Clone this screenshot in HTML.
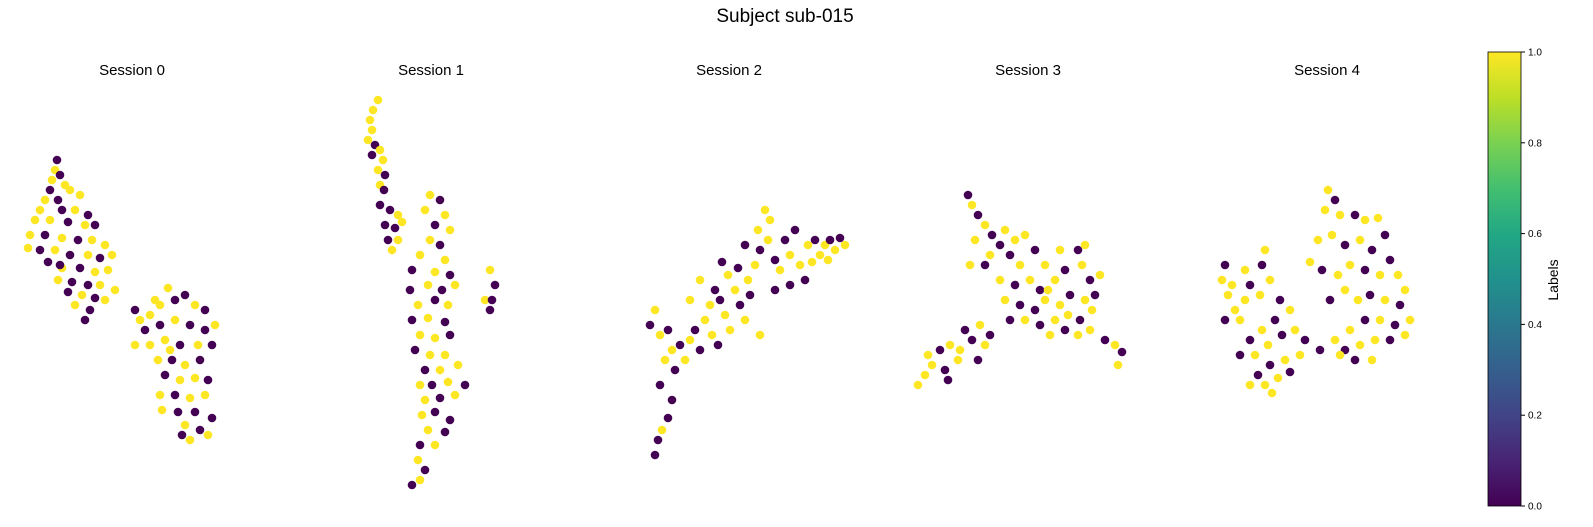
<!DOCTYPE html>
<html><head><meta charset="utf-8"><style>
html,body{margin:0;padding:0;background:#fff;}
svg{display:block;font-family:"Liberation Sans","DejaVu Sans",sans-serif;}
</style></head><body>
<svg id="chart" width="1593" height="527" viewBox="0 0 1593 527" xmlns="http://www.w3.org/2000/svg">
<defs><linearGradient id="viridis" x1="0" y1="1" x2="0" y2="0">
<stop offset="0" stop-color="#440154"/><stop offset="0.1" stop-color="#482475"/><stop offset="0.2" stop-color="#414487"/><stop offset="0.3" stop-color="#355f8d"/><stop offset="0.4" stop-color="#2a788e"/><stop offset="0.5" stop-color="#21918c"/><stop offset="0.6" stop-color="#22a884"/><stop offset="0.7" stop-color="#44bf70"/><stop offset="0.8" stop-color="#7ad151"/><stop offset="0.9" stop-color="#bddf26"/><stop offset="1" stop-color="#fde725"/></linearGradient></defs>
<text x="785" y="22" font-size="19" text-anchor="middle" fill="#000">Subject sub-015</text>
<g id="panels"></g>
<rect x="1488" y="52" width="33" height="454" fill="url(#viridis)" stroke="#000" stroke-width="0.8"/>
<g id="cbticks"></g>
<text x="0" y="0" font-size="14" text-anchor="middle" transform="translate(1558,280) rotate(-90)">Labels</text>
</svg>
<script>
const sessionNames = ["Session 0","Session 1","Session 2","Session 3","Session 4"];
const sessionCenters = [132,431,729,1028,1327];
const cbTicks = [0,0.2,0.4,0.6,0.8,1.0];
const s0 = [[-7.5,33,0],[-7.7,32,1],[-7.2,31.5,0],[-8,31,1],[-6.7,30.5,1],[-8.2,30,0],[-6.2,30,1],[-8.7,29,1],[-7.4,29,0],[-5.2,29.5,1],[-9.2,28,1],[-7,28,0],[-5.7,28,1],[-4.4,27.5,0],[-9.7,27,1],[-8.2,27,1],[-6.4,26.8,0],[-4.7,26.5,1],[-3.7,26.5,0],[-10.2,25.5,1],[-8.7,25.5,0],[-7,25.2,1],[-5.4,25,0],[-4,25,1],[-2.7,24.5,1],[-10.4,24.2,1],[-9.2,24,0],[-7.7,24,1],[-6.2,23.5,0],[-4.4,23.5,1],[-3.2,23.2,0],[-2,23.5,1],[-8.4,22.8,0],[-7,22.2,1],[-5.2,22.2,0],[-3.7,21.8,1],[-2.4,22,1],[-7.4,21,1],[-6,20.8,0],[-4.4,20.5,0],[-3.2,20.5,1],[-1.7,20,1],[-6.4,19.8,0],[-5,19.5,1],[-3.7,19.2,0],[-5.7,18.5,1],[-4.2,18,0],[-4.7,17,0],[-2.7,19,1],[-7.2,22.5,0],
[0.3,18,0],[0.8,17,1],[1.8,17.5,1],[2.8,18.5,1],[3.6,20.2,1],[4.3,19,0],[5.3,19.5,0],[6.3,18.5,1],[7.3,18,0],[8.3,16.5,1],[1.3,16,0],[2.8,16.5,0],[4.3,17,1],[5.8,16.5,0],[7.3,16,0],[0.3,14.5,1],[1.8,14.5,1],[3.3,15,1],[4.8,14.5,0],[6.6,14.5,1],[8,14.5,0],[2.6,13,1],[4,13,0],[5.3,12.5,1],[6.8,13,0],[3.3,11.5,0],[4.8,11,1],[6.3,11.2,1],[7.6,11,0],[2.8,9.5,1],[4.3,9.5,0],[5.8,9.2,1],[7.3,9.5,1],[3,8,1],[4.6,7.8,0],[6.3,7.8,0],[8,7.2,0],[5.3,6.5,1],[6.8,6,0],[5,5.5,0],[5.8,5,1],[7.6,5.5,1],[3.8,14,1],[2.3,19,1]];
const s1 = [[-5.3,39,1],[-5.8,38,1],[-6.1,37,1],[-5.9,36,1],[-6.3,35,1],[-5.6,34.5,0],[-5.1,34,1],[-5.9,33.5,0],[-4.8,33,1],[-5.3,32,1],[-4.6,31.5,0],[-5.1,30.5,1],[-4.7,30,0],[-5.1,28.5,0],[-4.1,28,0],[-3.3,27.5,1],[-4.6,26.5,0],[-3.6,26.2,0],[-2.9,26.8,1],[-4.3,25,0],[-3.3,25,1],[-3.9,24,1],
[-0.1,29.5,1],[0.9,29,0],[-0.6,28,1],[1.4,27.5,1],[0.4,26.5,0],[1.9,26,1],[-0.1,25,1],[0.9,24.5,0],[-1.1,23.5,1],[1.4,23,1],[-1.9,22,0],[0.4,21.8,1],[1.9,21.5,0],[-2.1,20,0],[-0.3,20.5,1],[1.1,20,0],[2.4,20.5,1],[-1.3,18.5,1],[0.4,19,0],[1.7,18.5,1],[-1.9,17,0],[-0.3,17.2,1],[1.4,16.8,0],[-1.1,15.5,1],[0.4,15.2,1],[1.9,15.5,0],[-1.6,14,0],[-0.1,13.5,1],[1.4,13.5,1],[-0.6,12,0],[0.9,12,1],[2.7,12.5,1],[-1.1,10.5,1],[0.1,10.5,0],[1.7,10.8,1],[3.4,10.5,0],[-0.6,9,1],[0.9,9.2,0],[2.4,9.5,1],[-0.9,7.5,1],[0.4,7.8,0],[1.9,7,0],[-0.3,6,1],[1.4,5.8,0],[-1.1,4.5,0],[0.4,4.5,1],[-1.3,3,1],[-0.6,2,0],[-1.1,1,1],[-1.9,0.5,0],
[5.9,22,1],[6.4,20.5,0],[5.4,19,1],[5.9,18,0],[6.1,19,0]];
const s2 = [[-7.4,3.5,0],[-7.1,5,0],[-6.7,6,1],[-6.1,7.2,0],[-5.7,9,0],[-6.9,10.5,0],[-7.9,16.5,0],[-7.4,18,1],[-6.9,15.5,1],[-6.1,16,0],[-5.7,14,1],[-4.9,14.5,0],[-6.4,13,1],[-4.4,13,1],[-5.4,12,0],[-3.9,15,1],[-3.4,16,0],[-2.9,14,0],[-2.4,17,1],[-1.7,15.5,1],[-1.1,14.5,0],[-1.9,18.5,1],[-0.9,19,0],[-0.4,17.5,1],[0.1,16,1],[0.6,20,1],[1.1,18.5,0],[1.6,17,1],[-2.9,21,1],[-1.4,20,0],[-0.1,21.5,1],[0.9,22.2,0],[1.9,21,1],[2.6,22.5,1],[2.1,19.5,0],[3.1,24,0],[3.9,25,1],[2.9,26,1],[4.1,27,1],[4.6,23,0],[5.1,22,1],[5.6,25,0],[6.1,23.5,1],[6.6,26,0],[7.1,22.5,1],[7.9,24.5,1],[7.6,21,0],[8.6,25,0],[9.1,23.5,1],[9.6,24.5,1],[10.1,25,0],[10.6,24,1],[11.1,25.2,0],[11.6,24.5,1],[8.3,22.8,1],[9.9,23,1],[6.1,20.5,0],[4.6,20,0],[3.6,28,1],[1.6,24.5,0],[-0.7,22.8,0],[-3.9,19,1],[3.1,15.5,1]];
const s3 = [[-11,10.5,1],[-10.3,11.5,1],[-9.6,12.5,1],[-8.8,14,0],[-10,13.5,1],[-8.3,12,0],[-7.8,14.5,1],[-7,13,1],[-6.3,16,0],[-6.8,14,1],[-5.6,15,0],[-4.8,16.5,1],[-4.3,14.5,1],[-5,13,0],[-3.8,15.5,0],[-8,11,0],
[-6,29.5,0],[-5.6,28.5,1],[-5,27.5,0],[-4.3,26.5,1],[-3.6,25.5,0],[-5.3,25,1],[-2.8,24.5,0],[-3.8,23.5,1],[-2.3,26,1],[-4.3,22.5,0],[-5.8,22.5,1],
[-1.3,25,1],[-0.3,25.5,1],[-1.8,23.5,0],[-0.8,22.5,1],[0.7,24,0],[1.7,22.5,1],[-2.8,21,1],[-1.3,20.5,0],[0.2,21,1],[1.2,20,0],[2.7,21,1],[3.7,22,0],[5,24,0],[5.4,22.5,1],[6.2,21,0],[7.2,21.5,1],[-2.3,19,1],[-0.8,18.5,0],[0.7,18,0],[1.7,19,1],[3.2,18.5,1],[4.2,19.5,0],[5.7,19,1],[6.7,19.5,0],[-0.3,17,1],[1.2,16.5,0],[2.7,17,1],[4,17.5,1],[5.2,17,0],[6.4,18,1],[2.2,15.5,1],[3.7,16,0],[5,15.5,1],[6.2,16,1],[7.7,15,0],[8.7,14.5,1],[9.4,13.8,0],[9,12.5,1],[-1.8,17,0],[3.2,24,1],[5.7,24.5,1],[2,20,1]];
const s4 = [[-10.2,22.5,0],[-10.5,21,1],[-9.9,19.5,1],[-9.2,18,1],[-10.2,17,0],[-8.7,17,1],[-8.2,19,1],[-7.7,20.5,0],[-6.7,19.5,1],[-6.2,24,1],[-6.5,22.5,0],[-5.7,21,1],[-4.7,19,0],[-3.7,18,1],[-5.2,17,0],[-6.5,16,1],[-7.7,15,0],[-8.7,13.5,0],[-7.2,13.5,1],[-5.9,14.5,1],[-4.5,15.5,0],[-3.2,16,1],[-2.2,15,0],[-2.7,13.5,1],[-4.2,13,1],[-5.7,12.5,0],[-6.9,11.5,0],[-6.2,10.5,1],[-4.9,11.2,1],[-3.7,11.8,0],[-7.7,10.5,1],[-5.5,9.7,1],[-9.5,20.5,1],[-8.2,22,1],
[0.1,30,1],[0.8,29,0],[-0.2,28,1],[1.3,27.5,1],[2.8,27.5,0],[3.8,27,1],[5.1,27.2,1],[5.8,25.5,0],[-0.9,25,1],[0.5,25.5,1],[1.8,24.5,0],[3.3,25,1],[4.5,24,0],[6.3,23,0],[7.1,21.5,1],[7.8,20,1],[5.3,21.5,1],[3.8,22,0],[2.3,22.5,1],[1.1,21.5,1],[-0.5,22,0],[-1.7,22.8,1],[0.3,19,0],[1.8,20,1],[3.1,19,1],[4.3,19.5,0],[5.8,19,1],[7.3,18.5,0],[8.3,17,1],[6.8,16.5,0],[5.3,17,1],[3.8,17,0],[2.3,16,1],[0.8,15,1],[-0.7,14,0],[1.8,14,0],[3.3,14.5,1],[4.8,15,1],[6.3,15,0],[7.8,15.5,1],[4.5,13,1],[2.8,13,0],[1.3,13.5,1]];
const sessions = [s0,s1,s2,s3,s4];
const labelColors = ["#440154","#fde725"];

const NS="http://www.w3.org/2000/svg";
function xScale(i,v){return sessionCenters[i]+v*10;}
function yScale(v){return 490-v*10;}
function cbScale(v){return 506-v*454;}
const panels=document.getElementById('panels');
sessions.forEach((pts,i)=>{
  const g=document.createElementNS(NS,'g');
  
  
  const t=document.createElementNS(NS,'text');
  
  
  t.setAttribute('x',sessionCenters[i]);t.setAttribute('y',75);
  t.setAttribute('font-size','15');t.setAttribute('text-anchor','middle');
  t.textContent=sessionNames[i];g.appendChild(t);
  pts.forEach(p=>{
    const c=document.createElementNS(NS,'circle');
    
    
    c.setAttribute('cx',xScale(i,p[0]));c.setAttribute('cy',yScale(p[1]));
    c.setAttribute('r',4.3);c.setAttribute('fill',labelColors[p[2]]);
    g.appendChild(c);
  });
  panels.appendChild(g);
});
const cb=document.getElementById('cbticks');
cbTicks.forEach(v=>{
  const y=cbScale(v);
  const l=document.createElementNS(NS,'line');
  
  
  l.setAttribute('x1',1521);l.setAttribute('x2',1525);l.setAttribute('y1',y);l.setAttribute('y2',y);
  l.setAttribute('stroke','#000');cb.appendChild(l);
  const t=document.createElementNS(NS,'text');
  
  
  t.setAttribute('x',1528);t.setAttribute('y',y+3.5);t.setAttribute('font-size','10');
  t.textContent=v.toFixed(1);cb.appendChild(t);
});
</script>
</body></html>
